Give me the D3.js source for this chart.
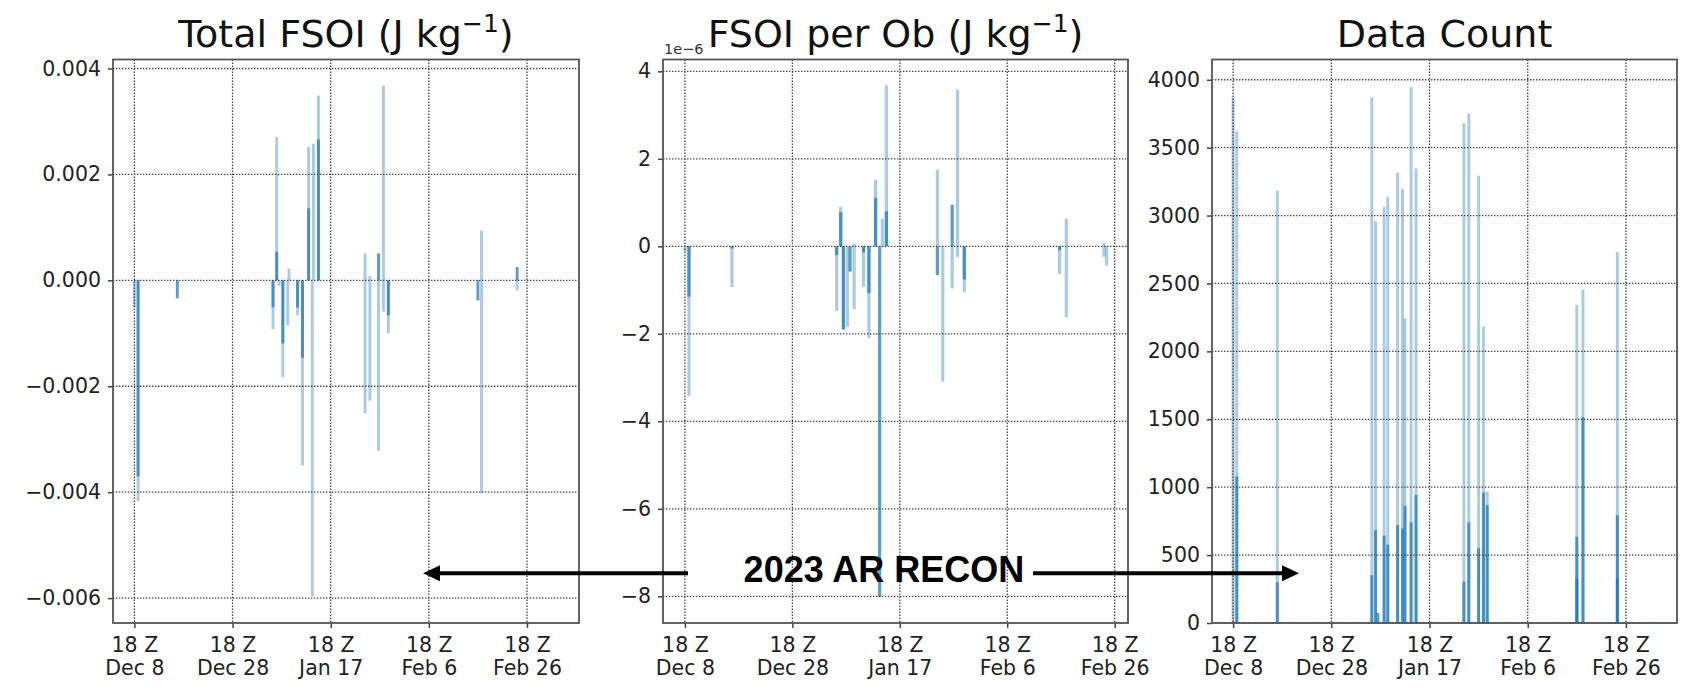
<!DOCTYPE html>
<html>
<head>
<meta charset="utf-8">
<title>2023 AR Recon FSOI</title>
<script src="https://cdn.jsdelivr.net/npm/d3@7"></script>
<style>
  body { margin: 0; background: #fff; }
  text { font-family: "DejaVu Sans", sans-serif; }
  .tick text { font-size: 20.5px; fill: #222; }
  .tick line { stroke: #444; stroke-width: 1.5; }
  .grid line { stroke: #444; stroke-width: 1.3; stroke-dasharray: 1.4,1.6; }
  .title { font-size: 38px; fill: #111; }
  .note { font-family: "Liberation Sans", Arial, sans-serif; font-weight: bold; font-size: 36px; fill: #000; }
</style>
</head>
<body>
<svg id="chart" width="1691" height="691"></svg>
<script>
// cycle times are "YYYY-MM-DD HH" (UTC); light bars = all obs, dark overlay = subset
var totalAll = [
  ["2022-12-08 18", -0.00051], ["2022-12-09 12", -0.00417],
  ["2023-01-06 00", -0.00092], ["2023-01-06 18", 0.00271], ["2023-01-07 06", -0.0001],
  ["2023-01-08 00", -0.00183], ["2023-01-09 00", -0.00085], ["2023-01-09 06", 0.00022],
  ["2023-01-11 00", -0.00066], ["2023-01-12 00", -0.00349], ["2023-01-13 06", 0.00252],
  ["2023-01-14 00", -0.00597], ["2023-01-14 06", 0.00258], ["2023-01-15 06", 0.00349],
  ["2023-01-24 18", 0.00051], ["2023-01-24 18", -0.00251],
  ["2023-01-25 18", 0.00008], ["2023-01-25 18", -0.00227],
  ["2023-01-27 12", -0.00322], ["2023-01-28 12", 0.00367], ["2023-01-28 12", -0.00059],
  ["2023-01-29 12", -0.001],
  ["2023-02-17 12", 0.00094], ["2023-02-17 12", -0.00402],
  ["2023-02-24 18", -0.00019]
];
var totalSub = [
  ["2022-12-09 12", -0.0037], ["2022-12-17 12", -0.00034],
  ["2023-01-06 00", -0.00051], ["2023-01-06 18", 0.00054], ["2023-01-08 00", -0.00119],
  ["2023-01-11 00", -0.00051], ["2023-01-12 00", -0.00146], ["2023-01-13 06", 0.00136],
  ["2023-01-15 06", 0.00266], ["2023-01-27 12", 0.00051], ["2023-01-29 12", -0.00066],
  ["2023-02-16 18", -0.00038], ["2023-02-24 18", 0.00025]
];

var perObAll = [
  ["2022-12-08 18", -0.12e-6], ["2022-12-09 12", -3.42e-6], ["2022-12-17 12", -0.93e-6],
  ["2023-01-06 00", -1.48e-6], ["2023-01-06 18", 0.90e-6], ["2023-01-07 06", -1.90e-6],
  ["2023-01-08 00", -1.84e-6], ["2023-01-09 06", -1.44e-6], ["2023-01-09 06", 0.06e-6],
  ["2023-01-11 00", -0.93e-6], ["2023-01-12 00", -2.10e-6], ["2023-01-13 06", 1.52e-6],
  ["2023-01-14 12", 0.63e-6], ["2023-01-15 06", 3.68e-6],
  ["2023-01-24 18", 1.75e-6], ["2023-01-25 18", -3.09e-6], ["2023-01-27 12", -0.96e-6],
  ["2023-01-28 12", 3.58e-6], ["2023-01-28 12", -0.25e-6], ["2023-01-29 18", -1.05e-6],
  ["2023-02-16 12", -0.63e-6], ["2023-02-17 18", 0.63e-6], ["2023-02-17 18", -1.62e-6],
  ["2023-02-24 18", 0.08e-6], ["2023-02-24 18", -0.24e-6], ["2023-02-25 06", -0.44e-6]
];
var perObSub = [
  ["2022-12-09 12", -1.15e-6], ["2022-12-17 12", -0.05e-6], ["2023-01-06 00", -0.2e-6],
  ["2023-01-06 18", 0.78e-6], ["2023-01-07 06", -1.9e-6], ["2023-01-08 12", -0.58e-6],
  ["2023-01-11 00", -0.14e-6], ["2023-01-12 00", -1.07e-6], ["2023-01-13 06", 1.11e-6],
  ["2023-01-14 00", -8.02e-6], ["2023-01-15 06", 0.8e-6], ["2023-01-24 18", -0.66e-6],
  ["2023-01-27 12", 0.95e-6], ["2023-01-29 18", -0.76e-6], ["2023-02-16 12", -0.09e-6]
];

var countAll = [
  ["2022-12-08 18", 3871], ["2022-12-09 12", 3620], ["2022-12-17 18", 3183],
  ["2023-01-06 00", 3871], ["2023-01-06 18", 2958], ["2023-01-08 12", 3064],
  ["2023-01-09 06", 3138], ["2023-01-11 06", 3315], ["2023-01-12 06", 3196],
  ["2023-01-12 18", 2244], ["2023-01-14 00", 3945], ["2023-01-15 00", 3347],
  ["2023-01-24 18", 3681], ["2023-01-25 18", 3752], ["2023-01-27 18", 3294],
  ["2023-01-28 18", 2183], ["2023-01-29 12", 968],
  ["2023-02-16 18", 2342], ["2023-02-18 00", 2455], ["2023-02-25 00", 2733]
];
var countSub = [
  ["2022-12-09 12", 1080], ["2022-12-17 18", 300], ["2023-01-06 00", 352],
  ["2023-01-06 18", 683], ["2023-01-07 06", 74], ["2023-01-08 12", 643],
  ["2023-01-09 06", 577], ["2023-01-11 06", 722], ["2023-01-12 06", 696],
  ["2023-01-12 18", 863], ["2023-01-14 00", 741], ["2023-01-15 00", 942],
  ["2023-01-24 18", 304], ["2023-01-25 18", 741], ["2023-01-27 18", 550],
  ["2023-01-28 18", 960], ["2023-01-29 12", 868],
  ["2023-02-16 18", 635], ["2023-02-16 18", 325], ["2023-02-18 00", 1516],
  ["2023-02-25 00", 794], ["2023-02-25 00", 325]
];

var tickTimes = ["2022-12-08 18", "2022-12-28 18", "2023-01-17 18", "2023-02-06 18", "2023-02-26 18"];
var totalTicks = [-0.006, -0.004, -0.002, 0, 0.002, 0.004];
var perObTicks = [-8e-6, -6e-6, -4e-6, -2e-6, 0, 2e-6, 4e-6];
var countTicks = [0, 500, 1000, 1500, 2000, 2500, 3000, 3500, 4000];

var parseTime = d3.utcParse("%Y-%m-%d %H");
var DAY = 864e5;
var halfBar = 0.3; // days
function shift(t, days) { return new Date(t.getTime() + days * DAY); }
var tickDates = tickTimes.map(parseTime);

var panels = [
  {title: "Total FSOI (J kg", sup: true, all: totalAll, sub: totalSub, ticks: totalTicks,
   fmt: d3.format(".3f"), left: 113, right: 579, yDomain: [-0.00647, 0.00417], pad: [-4.36, 10.6]},
  {title: "FSOI per Ob (J kg", sup: true, all: perObAll, sub: perObSub, ticks: perObTicks,
   fmt: function(d) { return d3.format("d")(Math.round(d / 1e-6)); },
   left: 663, right: 1128, yDomain: [-8.61e-6, 4.27e-6], pad: [-4.08, 2.48], offset: "1e\u22126"},
  {title: "Data Count", sup: false, all: countAll, sub: countSub, ticks: countTicks,
   fmt: d3.format("d"), left: 1212, right: 1677, yDomain: [0, 4149], pad: [-4.3, 10.4]}
];

var plotTop = 59.5, plotBottom = 623;
var svg = d3.select("#chart");
svg.append("rect").attr("width", 1691).attr("height", 691).attr("fill", "#fff");

panels.forEach(function(p, i) {
  var x = d3.scaleUtc()
    .domain([shift(tickDates[0], p.pad[0]), shift(tickDates[tickDates.length - 1], p.pad[1])])
    .range([p.left, p.right]);
  var y = d3.scaleLinear().domain(p.yDomain).range([plotBottom, plotTop]);

  var g = svg.append("g");
  g.append("clipPath").attr("id", "clip" + i)
    .append("rect").attr("x", p.left).attr("y", plotTop)
    .attr("width", p.right - p.left).attr("height", plotBottom - plotTop);

  var bars = g.append("g").attr("clip-path", "url(#clip" + i + ")");
  function drawBars(list, opacity) {
    bars.selectAll(null).data(list).enter().append("rect")
      .attr("x", function(d) { return x(shift(parseTime(d[0]), -halfBar)); })
      .attr("width", function(d) { var t = parseTime(d[0]); return x(shift(t, halfBar)) - x(shift(t, -halfBar)); })
      .attr("y", function(d) { return y(Math.max(0, d[1])); })
      .attr("height", function(d) { return Math.abs(y(d[1]) - y(0)); })
      .attr("fill", "#1f77b4")
      .attr("fill-opacity", opacity);
  }
  drawBars(p.all, 0.38);
  drawBars(p.sub, 0.72);

  // dotted grid
  var grid = g.append("g").attr("class", "grid");
  grid.selectAll(null).data(p.ticks).enter().append("line")
    .attr("x1", p.left).attr("x2", p.right)
    .attr("y1", function(d) { return y(d); }).attr("y2", function(d) { return y(d); });
  grid.selectAll(null).data(tickDates).enter().append("line")
    .attr("y1", plotTop).attr("y2", plotBottom)
    .attr("x1", function(d) { return x(d); }).attr("x2", function(d) { return x(d); });

  // axes
  g.append("g").attr("transform", "translate(" + p.left + ",0)")
    .call(d3.axisLeft(y).tickValues(p.ticks).tickSize(5).tickPadding(7).tickFormat(p.fmt))
    .call(function(a) { a.select(".domain").remove(); });

  var fmtDay = d3.utcFormat("%b %-d");
  g.append("g").attr("transform", "translate(0," + plotBottom + ")")
    .call(d3.axisBottom(x).tickValues(tickDates).tickSize(5).tickFormat(""))
    .call(function(a) {
      a.select(".domain").remove();
      a.selectAll(".tick text").remove();
      a.selectAll(".tick").each(function(d) {
        var t = d3.select(this).append("text").attr("text-anchor", "middle").attr("fill", "#222");
        t.append("tspan").attr("x", 0).attr("y", 28.7).text("18 Z");
        t.append("tspan").attr("x", 0).attr("y", 52).text(fmtDay(d));
      });
    });

  // frame
  g.append("rect").attr("x", p.left).attr("y", plotTop)
    .attr("width", p.right - p.left).attr("height", plotBottom - plotTop)
    .attr("fill", "none").attr("stroke", "#555").attr("stroke-width", 1.8);

  // title
  var title = g.append("text").attr("class", "title").attr("text-anchor", "middle")
    .attr("x", (p.left + p.right) / 2).attr("y", 47).text(p.title);
  if (p.sup) {
    title.append("tspan").attr("font-size", "25px").attr("dy", -15).text("\u22121");
    title.append("tspan").attr("dy", 15).text(")");
  }
  if (p.offset) {
    g.append("text").attr("x", p.left + 1).attr("y", 54).attr("font-size", "14.5px")
      .attr("fill", "#333").text(p.offset);
  }
});

// annotation with arrows
var note = svg.append("g");
note.append("text").attr("class", "note").attr("text-anchor", "middle")
  .attr("x", 884).attr("y", 582).text("2023 AR RECON");
var ay = 573.3;
note.append("line").attr("x1", 688).attr("x2", 436).attr("y1", ay).attr("y2", ay)
  .attr("stroke", "#000").attr("stroke-width", 4);
note.append("path").attr("d", "M423," + ay + "L440," + (ay - 8) + "L440," + (ay + 8) + "Z").attr("fill", "#000");
note.append("line").attr("x1", 1033).attr("x2", 1286).attr("y1", ay).attr("y2", ay)
  .attr("stroke", "#000").attr("stroke-width", 4);
note.append("path").attr("d", "M1299," + ay + "L1282," + (ay - 8) + "L1282," + (ay + 8) + "Z").attr("fill", "#000");
</script>
</body>
</html>
